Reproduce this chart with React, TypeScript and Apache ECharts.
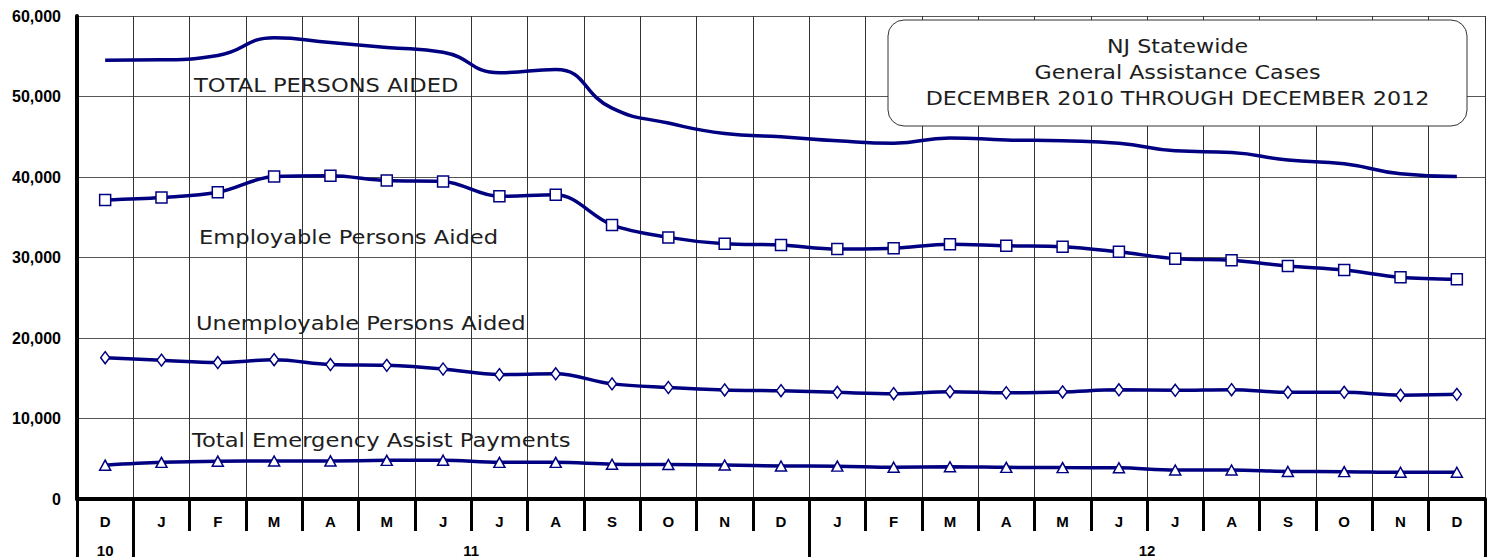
import React, { useEffect, useRef } from 'react';
import * as echarts from 'echarts';

const categories = [
  '2010-12', '2011-01', '2011-02', '2011-03', '2011-04', '2011-05', '2011-06', '2011-07', '2011-08',
  '2011-09', '2011-10', '2011-11', '2011-12', '2012-01', '2012-02', '2012-03', '2012-04', '2012-05',
  '2012-06', '2012-07', '2012-08', '2012-09', '2012-10', '2012-11', '2012-12',
];
const monthLabels = ['D', 'J', 'F', 'M', 'A', 'M', 'J', 'J', 'A', 'S', 'O', 'N', 'D', 'J', 'F', 'M', 'A', 'M', 'J', 'J', 'A', 'S', 'O', 'N', 'D'];
const yearLabels = ['10', '11', '12'];
const yearStartIndices = [0, 1, 13];
const yearEndIndices = [0, 12, 24];

const totalPersons = [54500, 54550, 55100, 57300, 56700, 56100, 55500, 52950, 53350, 48550, 46700, 45400, 45000, 44500, 44200, 44850, 44600, 44500, 44200, 43250, 43050, 42100, 41650, 40400, 40050];
const employable = [37150, 37450, 38100, 40050, 40150, 39550, 39450, 37600, 37800, 34050, 32500, 31700, 31550, 31050, 31150, 31650, 31450, 31350, 30700, 29850, 29650, 28950, 28450, 27550, 27300];
const unemployable = [17550, 17250, 16950, 17300, 16700, 16600, 16150, 15450, 15550, 14300, 13850, 13550, 13450, 13250, 13080, 13330, 13200, 13300, 13560, 13500, 13580, 13250, 13250, 12900, 13000];
const emergency = [4200, 4550, 4700, 4720, 4730, 4800, 4820, 4550, 4550, 4320, 4280, 4220, 4100, 4080, 3950, 4000, 3930, 3900, 3880, 3600, 3600, 3420, 3400, 3320, 3320];

const seriesNames = ['TOTAL PERSONS AIDED', 'Employable Persons Aided', 'Unemployable Persons Aided', 'Total Emergency Assist Payments'];
const titleLines = ['NJ Statewide', 'General Assistance Cases', 'DECEMBER 2010 THROUGH DECEMBER 2012'];

const Y_MIN = 0;
const Y_MAX = 60000;
const Y_STEP = 10000;

const NAVY = '#000080';
const LABEL_FONT = '"DejaVu Sans", Verdana, sans-serif';
const AXIS_FONT = '"Liberation Sans", Arial, sans-serif';

export default function App() {
  const ref = useRef<HTMLDivElement>(null);
  useEffect(() => {
    document.body.style.margin = '0';
    const chart = echarts.init(ref.current!, null, { renderer: 'svg' });
    const markerItem = { color: '#ffffff', borderColor: NAVY, borderWidth: 1.5 };
    const lineStyle = { color: NAVY, width: 3.5 };
    const annot = (text: string, x: number, y: number) => ({
      type: 'text', x, y, scaleX: 1.16, z: 50,
      style: { text, fontSize: 19.5, fontFamily: LABEL_FONT, fill: '#1e1e1e', verticalAlign: 'middle', align: 'left' },
    });
    const titleText = (text: string, y: number) => ({
      type: 'text', x: 1177.5, y, scaleX: 1.14, z: 61,
      style: { text, fontSize: 19.5, fontFamily: LABEL_FONT, fill: '#1e1e1e', verticalAlign: 'middle', align: 'center' },
    });
    const baseGraphic = [
      annot(seriesNames[0], 194, 85.5),
      annot(seriesNames[1], 199, 237),
      annot(seriesNames[2], 196, 323.5),
      annot(seriesNames[3], 192, 440),
      {
        type: 'rect', z: 60,
        shape: { x: 888, y: 20, width: 579, height: 106, r: 16 },
        style: { fill: '#ffffff', stroke: '#333', lineWidth: 1 },
      },
      titleText(titleLines[0], 46),
      titleText(titleLines[1], 72),
      titleText(titleLines[2], 98),
    ];
    chart.setOption({
      animation: false,
      backgroundColor: '#ffffff',
      grid: { left: 77, right: 10, top: 16, bottom: 58, containLabel: false },
      xAxis: [
        {
          type: 'category',
          data: categories,
          boundaryGap: true,
          axisLine: { show: true, lineStyle: { color: '#000', width: 4 } },
          axisTick: { show: true, interval: 0, length: 32, lineStyle: { color: '#000', width: 3 } },
          axisLabel: {
            interval: 0, margin: 15, color: '#000', fontWeight: 'bold', fontSize: 15, fontFamily: AXIS_FONT,
            formatter: (_v: string, i: number) => monthLabels[i],
          },
          splitLine: { show: true, interval: 0, lineStyle: { color: '#333', width: 1 } },
        },
        {
          type: 'category',
          data: categories,
          boundaryGap: true,
          position: 'bottom',
          offset: 32,
          axisLine: { show: false },
          axisTick: {
            show: true, length: 26, lineStyle: { color: '#000', width: 3 },
            interval: (i: number) => yearStartIndices.includes(i),
          },
          axisLabel: { show: false },
          splitLine: { show: false },
        },
      ],
      yAxis: {
        type: 'value',
        position: 'left',
        min: Y_MIN,
        max: Y_MAX,
        interval: Y_STEP,
        axisLine: { show: true, lineStyle: { color: '#000', width: 4 } },
        axisTick: { show: false },
        axisLabel: {
          margin: 16, color: '#000', fontWeight: 'bold', fontSize: 16, fontFamily: AXIS_FONT,
          formatter: (v: number) => v.toLocaleString('en-US'),
        },
        splitLine: { show: true, lineStyle: { color: '#555', width: 1.2 } },
      },
      series: [
        { name: seriesNames[0], type: 'line', data: totalPersons, smooth: 0.5, symbol: 'none', lineStyle, z: 5 },
        { name: seriesNames[1], type: 'line', data: employable, smooth: 0.35, symbol: 'rect', symbolSize: 11, lineStyle, itemStyle: markerItem, z: 5 },
        { name: seriesNames[2], type: 'line', data: unemployable, smooth: 0.35, symbol: 'diamond', symbolSize: [9, 12], lineStyle, itemStyle: markerItem, z: 5 },
        { name: seriesNames[3], type: 'line', data: emergency, smooth: 0.35, symbol: 'triangle', symbolSize: [11, 10], lineStyle, itemStyle: markerItem, z: 5 },
      ],
      graphic: baseGraphic,
    });
    const yearTexts = yearLabels.map((label, k) => {
      const x0 = chart.convertToPixel({ xAxisIndex: 0 }, yearStartIndices[k]) as number;
      const x1 = chart.convertToPixel({ xAxisIndex: 0 }, yearEndIndices[k]) as number;
      return {
        type: 'text', x: (x0 + x1) / 2, y: 550, z: 70,
        style: { text: label, fontSize: 15, fontWeight: 'bold', fontFamily: AXIS_FONT, fill: '#000', align: 'center', verticalAlign: 'middle' },
      };
    });
    chart.setOption({
      graphic: [...baseGraphic, ...yearTexts],
    }, { replaceMerge: ['graphic'] });
    return () => chart.dispose();
  }, []);
  return <div ref={ref} style={{ width: 1495, height: 557 }} />;
}
